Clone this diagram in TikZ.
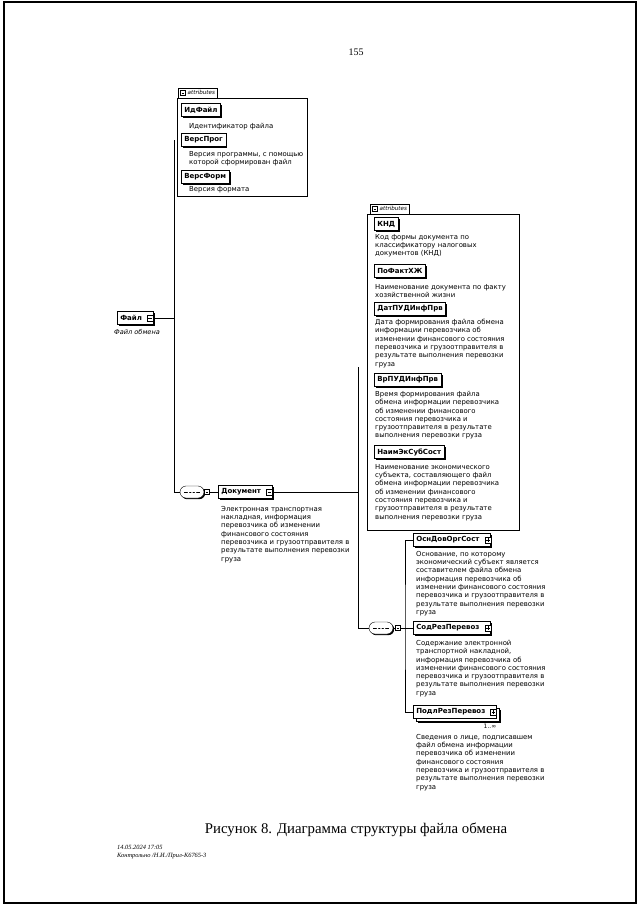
\documentclass[tikz,border=0pt]{standalone}
\usepackage{fontspec}
\setmainfont{Liberation Serif}
\newfontfamily\xsdfont{DejaVu Sans}
\usetikzlibrary{shadows,shapes.misc}
\newcommand\btngap{\hspace{8pt}\null}
\begin{document}
\begin{tikzpicture}
        [
           x=1pt, y=-1pt,
           every node/.style={inner sep=0pt},
           wire/.style={line width=0.7pt},
           elem/.style={draw,fill=white,anchor=west,minimum height=13pt,inner xsep=3pt,line width=0.6pt,
              font=\xsdfont\bfseries\fontsize{7}{8}\selectfont,
              drop shadow={shadow xshift=1.6pt,shadow yshift=-1.6pt,fill=black,opacity=1}},
           multielem/.style={draw,fill=white,anchor=west,minimum height=13pt,inner xsep=3pt,line width=0.6pt,
              font=\xsdfont\bfseries\fontsize{7}{8}\selectfont,
              drop shadow={shadow xshift=4.2pt,shadow yshift=-4.2pt,fill=black,opacity=1},
              copy shadow={shadow xshift=2.6pt,shadow yshift=-2.6pt,fill=white,draw=black}},
           descr/.style={anchor=north west,align=left,font=\xsdfont\fontsize{6.9}{8.3}\selectfont},
           attbox/.style={draw,fill=white,anchor=north west,
              drop shadow={shadow xshift=1pt,shadow yshift=-1pt,fill=black,opacity=1}},
           atttab/.style={draw,fill=white,anchor=south west,minimum height=10pt,inner xsep=2.5pt,
              font=\xsdfont\itshape\fontsize{5.6}{6}\selectfont},
           minusbtn/.style={draw,fill=white,minimum size=6pt,
              path picture={\draw ([xshift=1.2pt]path picture bounding box.west) -- ([xshift=-1.2pt]path picture bounding box.east);}},
           plusbtn/.style={draw,fill=white,minimum size=6pt,
              path picture={\draw ([xshift=1.2pt]path picture bounding box.west) -- ([xshift=-1.2pt]path picture bounding box.east);
                 \draw ([yshift=1.2pt]path picture bounding box.south) -- ([yshift=-1.2pt]path picture bounding box.north);}},
           seqbox/.style={draw,fill=white,rounded rectangle,minimum width=24pt,minimum height=12pt,
              drop shadow={shadow xshift=1.2pt,shadow yshift=-1.2pt,fill=black,opacity=1},
              path picture={\draw ([xshift=4pt]path picture bounding box.west) -- ([xshift=-4pt]path picture bounding box.east);
                 \foreach \d in {-3.5,0,3.5} \fill ([xshift=\d pt]path picture bounding box.center) circle (1pt);}}
        ]
        \useasboundingbox (0,0) rectangle (640,905);
        \draw[line width=1.6pt] (4,2) rectangle (636,903);
        \node[font=\fontsize{10}{12}\selectfont] (pageno) at (356,52) {155};

        \node[attbox,minimum width=130pt,minimum height=98pt] (attFile) at (177,98) {};
        \node[atttab] (tabFile) at (178,98) {\hspace{7pt}attributes};
        \node[minusbtn,minimum size=5pt] at ([xshift=5pt]tabFile.west) {};
        \node[elem] (idFile) at (181,110) {ИдФайл};
        \node[descr] at (189,123) {Идентификатор файла};
        \node[elem] (versProg) at (181,140) {ВерсПрог};
        \node[descr] at (189,151) {Версия программы, с помощью\\которой сформирован файл};
        \node[elem] (versForm) at (181,177) {ВерсФорм};
        \node[descr] at (189,186) {Версия формата};

        \node[elem] (file) at (117,318) {Файл\btngap};
        \node[minusbtn] (fileBtn) at ([xshift=-3pt]file.east) {};
        \node[descr,anchor=north,font=\xsdfont\itshape\fontsize{6.6}{8}\selectfont] at (137,329) {Файл обмена};
        \coordinate (spineTop) at (174,140);
        \node[seqbox] (seqFile) at (192,492) {};
        \node[minusbtn,minimum size=5pt] (seqFileBtn) at (207,492) {};
        \node[elem] (doc) at (218,492) {Документ\btngap};
        \node[minusbtn] (docBtn) at ([xshift=-3pt]doc.east) {};
        \node[descr] at (221,506) {Электронная транспортная\\накладная, информация\\перевозчика об изменении\\финансового состояния\\перевозчика и грузоотправителя в\\результате выполнения перевозки\\груза};
        \draw[wire] (fileBtn.east) -- (fileBtn.east -| spineTop);
        \draw[wire] (spineTop) |- (seqFile.west);
        \draw[wire] (seqFile.east) -- (seqFileBtn.west);
        \draw[wire] (seqFileBtn.east) -- (doc.west);

        \node[attbox,minimum width=152pt,minimum height=316pt] (attDoc) at (367,214) {};
        \node[atttab] (tabDoc) at (370,214) {\hspace{7pt}attributes};
        \node[minusbtn,minimum size=5pt] at ([xshift=5pt]tabDoc.west) {};
        \node[elem] (knd) at (374,224) {КНД};
        \node[descr] at (375,234) {Код формы документа по\\классификатору налоговых\\документов (КНД)};
        \node[elem] (poFakt) at (374,271) {ПоФактХЖ};
        \node[descr] at (375,284) {Наименование документа по факту\\хозяйственной жизни};
        \node[elem] (datPud) at (374,309) {ДатПУДИнфПрв};
        \node[descr] at (375,319) {Дата формирования файла обмена\\информации перевозчика об\\изменении финансового состояния\\перевозчика и грузоотправителя в\\результате выполнения перевозки\\груза};
        \node[elem] (vrPud) at (374,380) {ВрПУДИнфПрв};
        \node[descr] at (375,391) {Время формирования файла\\обмена информации перевозчика\\об изменении финансового\\состояния перевозчика и\\грузоотправителя в результате\\выполнения перевозки груза};
        \node[elem] (naimEk) at (374,452) {НаимЭкСубСост};
        \node[descr] at (375,464) {Наименование экономического\\субъекта, составляющего файл\\обмена информации перевозчика\\об изменении финансового\\состояния перевозчика и\\грузоотправителя в результате\\выполнения перевозки груза};

        \coordinate (docSpineTop) at (358,367);
        \node[seqbox] (seqDoc) at (381,628) {};
        \node[minusbtn,minimum size=5pt] (seqDocBtn) at (398,628) {};
        \coordinate (branch) at (405,628);
        \node[elem] (osnDov) at (413,540) {ОснДовОргСост\btngap};
        \node[plusbtn] (osnDovBtn) at ([xshift=-3pt]osnDov.east) {};
        \node[descr] at (416,551) {Основание, по которому\\экономический субъект является\\составителем файла обмена\\информация перевозчика об\\изменении финансового состояния\\перевозчика и грузоотправителя в\\результате выполнения перевозки\\груза};
        \node[elem] (sodRez) at (413,628) {СодРезПеревоз\btngap};
        \node[plusbtn] (sodRezBtn) at ([xshift=-3pt]sodRez.east) {};
        \node[descr] at (416,640) {Содержание электронной\\транспортной накладной,\\информация перевозчика об\\изменении финансового состояния\\перевозчика и грузоотправителя в\\результате выполнения перевозки\\груза};
        \node[multielem] (podlRez) at (413,712) {ПодлРезПеревоз\btngap};
        \node[plusbtn] (podlRezBtn) at ([xshift=-3pt]podlRez.east) {};
        \node[descr,anchor=north,font=\xsdfont\fontsize{6}{7}\selectfont] (occurs) at (490,724) {1..∞};
        \node[descr] at (416,734) {Сведения о лице, подписавшем\\файл обмена информации\\перевозчика об изменении\\финансового состояния\\перевозчика и грузоотправителя в\\результате выполнения перевозки\\груза};
        \draw[wire] (docBtn.east) -- (docBtn.east -| docSpineTop);
        \draw[wire] (docSpineTop) |- (seqDoc.west);
        \draw[wire] (seqDoc.east) -- (seqDocBtn.west);
        \draw[wire] (seqDocBtn.east) -- (branch);
        \draw[wire] (osnDov.west) -| (branch) |- (podlRez.west);
        \draw[wire] (branch) -- (sodRez.west);

        \node[font=\fontsize{14.8}{17}\selectfont] (caption) at (356,830) {Рисунок 8. Диаграмма структуры файла обмена};
        \node[anchor=north west,align=left,font=\itshape\fontsize{6.4}{8.5}\selectfont] (stamp) at (117,845) {14.05.2024 17:05\\Контрольно /Н.И./Прил-К6765-3};
    \end{tikzpicture}
\end{document}
